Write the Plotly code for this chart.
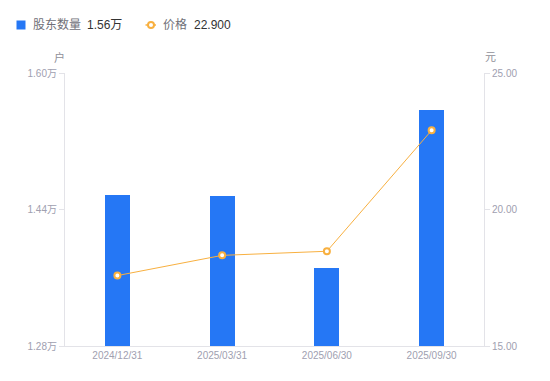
import plotly.graph_objects as go

categories = ["2024/12/31", "2025/03/31", "2025/06/30", "2025/09/30"]
holders = [1.457, 1.456, 1.371, 1.557]   # 万户
prices = [17.58, 18.32, 18.47, 22.90]    # 元
left_ticks = [1.28, 1.44, 1.60]
left_ticktext = ["1.28万", "1.44万", "1.60万"]
right_ticks = [15, 20, 25]
right_ticktext = ["15.00", "20.00", "25.00"]

OFF = 8  # default page body margin
W, H = 550, 381
PL, PR, PT, PB = 65, 484, 73, 346   # plot area in screen pixels
L, T = PL - OFF, PT - OFF
R, B = W - PR, H - PB
FW, FH = W - OFF, H - OFF
PW, PH = PR - PL, PB - PT

def px(x):
    return (x - PL) / PW

def py(y):
    return (PB - y) / PH

BLUE = "#2577F5"
ORANGE = "#F8B040"
FONT = "Liberation Sans, Noto Sans CJK SC, sans-serif"

fig = go.Figure()
fig.add_trace(go.Bar(x=categories, y=holders, width=0.24, marker_color=BLUE,
                     marker_line_width=0, yaxis="y", name="股东数量"))
fig.add_trace(go.Scatter(x=categories, y=prices, mode="lines+markers", yaxis="y2",
                         line=dict(color=ORANGE, width=1),
                         marker=dict(symbol="circle", size=6, color="white",
                                     line=dict(color=ORANGE, width=2)),
                         name="价格"))

axis_common = dict(showgrid=False, zeroline=False, showline=True, linecolor="#E3E3E8",
                   linewidth=1, ticks="outside", ticklen=5, tickcolor="#E3E3E8",
                   tickfont=dict(size=10, color="#A0A0B0", family=FONT))

fig.update_layout(
    width=FW, height=FH,
    margin=dict(l=L, r=R, t=T, b=B),
    paper_bgcolor="white", plot_bgcolor="white",
    showlegend=False,
    font=dict(family=FONT),
    xaxis=dict(showgrid=False, zeroline=False, showline=True, linecolor="#E3E3E8",
               ticks="", tickfont=dict(size=10, color="#A0A0B0", family=FONT)),
    yaxis=dict(range=[1.28, 1.60], tickvals=left_ticks, ticktext=left_ticktext,
               side="left", **axis_common),
    yaxis2=dict(range=[15, 25], tickvals=right_ticks, ticktext=right_ticktext,
                side="right", overlaying="y", **axis_common),
    bargap=0,
)

LY = 25
annos = [
    dict(x=px(59), y=py(57), text="户", font=dict(size=11, color="#909099")),
    dict(x=px(490), y=py(57), text="元", font=dict(size=11, color="#909099")),
    dict(x=px(31), y=py(LY), text="股东数量", xanchor="left", font=dict(size=12, color="#707078")),
    dict(x=px(85), y=py(LY), text=f"{holders[-1]:.2f}万", xanchor="left", font=dict(size=12, color="#333333")),
    dict(x=px(161), y=py(LY), text="价格", xanchor="left", font=dict(size=12, color="#707078")),
    dict(x=px(192), y=py(LY), text=f"{prices[-1]:.3f}", xanchor="left", font=dict(size=12, color="#333333")),
]
for a in annos:
    a.setdefault("xanchor", "center")
    fig.add_annotation(xref="paper", yref="paper", showarrow=False, yanchor="middle",
                       font_family=FONT, **a)

fig.add_shape(type="rect", xref="paper", yref="paper", x0=px(16.5), x1=px(25.5), y0=py(20.5), y1=py(29.5),
              fillcolor=BLUE, line_width=0)
fig.add_shape(type="line", xref="paper", yref="paper", x0=px(145.5), x1=px(156), y0=py(LY), y1=py(LY),
              line=dict(color=ORANGE, width=1.5))
fig.add_shape(type="circle", xref="paper", yref="paper", x0=px(148), x1=px(154), y0=py(LY - 3), y1=py(LY + 3),
              fillcolor="white", line=dict(color=ORANGE, width=2))

fig.write_html("out.html")
